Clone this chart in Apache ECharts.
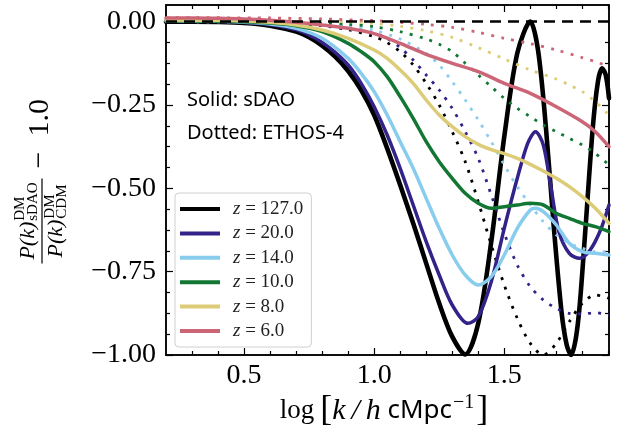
<!DOCTYPE html>
<html>
<head>
<meta charset="utf-8">
<script src="https://cdn.jsdelivr.net/npm/echarts@6/dist/echarts.min.js"></script>
<style>
html,body{margin:0;padding:0;background:#fff;}
#c{width:617px;height:439px;}
</style>
</head>
<body>
<div id="c"></div>
<script>
// ---- axis ticks ----
const xRange = [0.2, 1.9025];
const yRange = [-1.0, 0.05];
const xMajor = [0.5, 1.0, 1.5];
const xMinor = [0.3, 0.4, 0.6, 0.7, 0.8, 0.9, 1.1, 1.2, 1.3, 1.4, 1.6, 1.7, 1.8, 1.9];
const yMajor = [-1.0, -0.75, -0.5, -0.25, 0.0];
const yMinor = [-0.9375, -0.875, -0.8125, -0.6875, -0.625, -0.5625, -0.4375, -0.375, -0.3125, -0.1875, -0.125, -0.0625];

// ---- legend labels ----
const zLabels = ['z = 127.0', 'z = 20.0', 'z = 14.0', 'z = 10.0', 'z = 8.0', 'z = 6.0'];

// ---- sDAO (solid) : [log k, ratio-1] ----
const sdao127 = [[0.2,0],[0.3,0],[0.4,-0.001],[0.5,-0.004],[0.6,-0.012],[0.7,-0.03],[0.75,-0.047],[0.8,-0.072],[0.85,-0.105],[0.9,-0.148],[0.95,-0.205],[1.0,-0.28],[1.05,-0.38],[1.1,-0.49],[1.15,-0.605],[1.2,-0.725],[1.25,-0.845],[1.3,-0.945],[1.35,-0.998],[1.4,-0.905],[1.45,-0.66],[1.5,-0.345],[1.55,-0.095],[1.6,0.0],[1.63,-0.087],[1.66,-0.317],[1.69,-0.613],[1.72,-0.87],[1.74,-0.97],[1.757,-1.0],[1.775,-0.95],[1.79,-0.85],[1.81,-0.643],[1.84,-0.32],[1.86,-0.18],[1.876,-0.14],[1.89,-0.16],[1.9025,-0.23]];
const sdao20 = [[0.2,0.002],[0.4,0.001],[0.5,-0.002],[0.6,-0.009],[0.7,-0.024],[0.75,-0.04],[0.8,-0.062],[0.85,-0.092],[0.9,-0.13],[0.95,-0.185],[1.0,-0.255],[1.05,-0.34],[1.1,-0.44],[1.15,-0.55],[1.2,-0.66],[1.25,-0.76],[1.3,-0.85],[1.36,-0.905],[1.4,-0.885],[1.45,-0.78],[1.5,-0.62],[1.55,-0.47],[1.59,-0.365],[1.62,-0.33],[1.65,-0.37],[1.68,-0.5],[1.71,-0.63],[1.75,-0.695],[1.79,-0.71],[1.83,-0.685],[1.87,-0.625],[1.9025,-0.55]];
const sdao14 = [[0.2,0.002],[0.4,0.001],[0.5,-0.002],[0.6,-0.007],[0.7,-0.02],[0.8,-0.05],[0.9,-0.11],[0.95,-0.155],[1.0,-0.21],[1.05,-0.28],[1.1,-0.36],[1.15,-0.44],[1.2,-0.53],[1.25,-0.62],[1.3,-0.7],[1.35,-0.76],[1.4,-0.79],[1.45,-0.765],[1.5,-0.7],[1.55,-0.62],[1.6,-0.565],[1.62,-0.56],[1.65,-0.57],[1.7,-0.61],[1.75,-0.665],[1.8,-0.69],[1.85,-0.695],[1.9025,-0.7]];
const sdao10 = [[0.2,0.003],[0.4,0.002],[0.5,0],[0.6,-0.004],[0.7,-0.012],[0.8,-0.03],[0.9,-0.065],[0.95,-0.09],[1.0,-0.12],[1.05,-0.165],[1.1,-0.225],[1.15,-0.29],[1.2,-0.36],[1.25,-0.42],[1.3,-0.47],[1.35,-0.515],[1.4,-0.545],[1.45,-0.56],[1.5,-0.555],[1.55,-0.55],[1.6,-0.545],[1.65,-0.55],[1.7,-0.575],[1.75,-0.59],[1.8,-0.605],[1.85,-0.615],[1.9025,-0.63]];
const sdao8 = [[0.2,0.005],[0.4,0.004],[0.5,0.002],[0.6,-0.002],[0.7,-0.01],[0.8,-0.025],[0.9,-0.05],[1.0,-0.085],[1.05,-0.11],[1.1,-0.145],[1.15,-0.185],[1.2,-0.235],[1.25,-0.28],[1.3,-0.315],[1.35,-0.345],[1.4,-0.368],[1.45,-0.384],[1.5,-0.396],[1.55,-0.41],[1.6,-0.428],[1.65,-0.448],[1.7,-0.47],[1.75,-0.495],[1.8,-0.525],[1.85,-0.56],[1.9025,-0.605]];
const sdao6 = [[0.2,0.011],[0.3,0.011],[0.4,0.01],[0.5,0.008],[0.6,0.004],[0.7,-0.002],[0.8,-0.01],[0.9,-0.02],[1.0,-0.036],[1.1,-0.065],[1.2,-0.098],[1.3,-0.125],[1.4,-0.15],[1.5,-0.185],[1.6,-0.215],[1.7,-0.255],[1.8,-0.3],[1.85,-0.33],[1.9025,-0.375]];

// ---- ETHOS-4 (dotted) ----
const ethos127 = [[0.2,0],[0.5,-0.001],[0.6,-0.002],[0.7,-0.005],[0.8,-0.012],[0.9,-0.024],[1.0,-0.045],[1.05,-0.063],[1.1,-0.09],[1.15,-0.13],[1.2,-0.185],[1.25,-0.25],[1.3,-0.33],[1.35,-0.42],[1.4,-0.54],[1.45,-0.67],[1.5,-0.79],[1.55,-0.89],[1.6,-0.965],[1.65,-1.0],[1.7,-0.965],[1.75,-0.9],[1.8,-0.845],[1.85,-0.82],[1.9025,-0.83]];
const ethos20 = [[0.2,0],[0.6,-0.001],[0.7,-0.003],[0.8,-0.008],[0.9,-0.018],[1.0,-0.035],[1.05,-0.05],[1.1,-0.078],[1.15,-0.115],[1.2,-0.16],[1.25,-0.205],[1.3,-0.26],[1.35,-0.33],[1.4,-0.41],[1.45,-0.52],[1.5,-0.635],[1.55,-0.73],[1.6,-0.795],[1.65,-0.835],[1.7,-0.86],[1.75,-0.875],[1.8,-0.877],[1.85,-0.873],[1.9025,-0.88]];
const ethos14 = [[0.2,0],[0.7,-0.002],[0.8,-0.006],[0.9,-0.013],[1.0,-0.026],[1.1,-0.052],[1.2,-0.095],[1.25,-0.13],[1.3,-0.18],[1.35,-0.235],[1.4,-0.295],[1.45,-0.36],[1.5,-0.43],[1.55,-0.495],[1.6,-0.55],[1.65,-0.6],[1.7,-0.64],[1.75,-0.665],[1.8,-0.68],[1.85,-0.69],[1.9025,-0.69]];
const ethos10 = [[0.2,0.002],[0.6,0.001],[0.8,-0.003],[0.9,-0.008],[1.0,-0.015],[1.1,-0.03],[1.2,-0.052],[1.25,-0.068],[1.3,-0.09],[1.35,-0.125],[1.4,-0.16],[1.45,-0.195],[1.5,-0.23],[1.55,-0.26],[1.6,-0.285],[1.65,-0.31],[1.7,-0.33],[1.75,-0.35],[1.8,-0.37],[1.85,-0.395],[1.9025,-0.43]];
const ethos8 = [[0.2,0.005],[0.8,0.003],[0.9,0.0],[1.0,-0.005],[1.1,-0.014],[1.2,-0.027],[1.3,-0.047],[1.4,-0.078],[1.5,-0.112],[1.6,-0.145],[1.7,-0.172],[1.75,-0.19],[1.8,-0.21],[1.85,-0.24],[1.9025,-0.28]];
const ethos6 = [[0.2,0.012],[0.6,0.011],[0.8,0.008],[1.0,0.003],[1.1,-0.002],[1.2,-0.008],[1.3,-0.017],[1.4,-0.032],[1.5,-0.05],[1.6,-0.066],[1.7,-0.085],[1.8,-0.108],[1.85,-0.12],[1.9025,-0.135]];

const colors = ['#000000', '#332288', '#88CCEE', '#117733', '#DDCC77', '#CC6677'];
const solidSets = [sdao127, sdao20, sdao14, sdao10, sdao8, sdao6];
const dottedSets = [ethos127, ethos20, ethos14, ethos10, ethos8, ethos6];

const SERIF = 'Liberation Serif';
const chart = echarts.init(document.getElementById('c'), null, {renderer: 'canvas'});

function fmtY(v) {
  const s = Math.abs(v).toFixed(2);
  return v < -1e-9 ? '\u2212' + s : s;
}

function xAx(pos, ticks, len, withLabels) {
  return {
    type: 'value', position: pos, min: xRange[0], max: xRange[1],
    axisLine: {show: true, onZero: false, lineStyle: {color: '#000', width: 1.5}},
    axisTick: {show: true, inside: true, length: len, customValues: ticks, lineStyle: {color: '#000', width: 1.2}},
    axisLabel: withLabels ? {show: true, customValues: ticks, formatter: v => v.toFixed(1), color: '#000', fontFamily: SERIF, fontSize: 28, margin: 7} : {show: false},
    splitLine: {show: false}
  };
}
function yAx(pos, ticks, len, withLabels) {
  return {
    type: 'value', position: pos, min: yRange[0], max: yRange[1],
    axisLine: {show: true, onZero: false, lineStyle: {color: '#000', width: 1.5}},
    axisTick: {show: true, inside: true, length: len, customValues: ticks, lineStyle: {color: '#000', width: 1.2}},
    axisLabel: withLabels ? {show: true, customValues: ticks, formatter: fmtY, color: '#000', fontFamily: SERIF, fontSize: 28, margin: 10} : {show: false},
    splitLine: {show: false}
  };
}

const series = [];
for (let i = 0; i < 6; i++) {
  series.push({
    type: 'line', name: zLabels[i], data: solidSets[i], xAxisIndex: 0, yAxisIndex: 0,
    showSymbol: false, symbol: 'none', smooth: 0.3, silent: true,
    lineStyle: {color: colors[i], width: i === 0 ? 4.6 : 3.5, cap: 'round', join: 'round'},
    itemStyle: {color: colors[i]}
  });
  series.push({
    type: 'line', name: 'ETHOS-4 ' + zLabels[i], data: dottedSets[i], xAxisIndex: 0, yAxisIndex: 0,
    showSymbol: false, symbol: 'none', smooth: 0.3, silent: true,
    lineStyle: {color: colors[i], width: 2.8, type: [2.9, 7.3], cap: 'butt'},
    itemStyle: {color: colors[i]}
  });
}
series[series.length - 1].markLine = {
  silent: true, symbol: ['none', 'none'], label: {show: false},
  lineStyle: {color: '#000', width: 2.5, type: [11, 7]},
  data: [{yAxis: 0}]
};

// measurement helper for y-label layout
const mctx = document.createElement('canvas').getContext('2d');
function tw(t, font) { mctx.font = font; return mctx.measureText(t).width; }
const fBig = 'italic 22px "' + SERIF + '"';
const fScr = '15px "' + SERIF + '"';
const wP = tw('P(k)', fBig);
const numW = wP + 1 + Math.max(tw('DM', fScr), tw('sDAO', fScr));
const denW = wP + 1 + Math.max(tw('DM', fScr), tw('CDM', fScr));
const barL = Math.max(numW, denW) + 8;
const nx0 = -numW / 2, dx0 = -denW / 2;

const yLabel = {
  type: 'group', x: 42, y: 221, rotation: Math.PI / 2,
  children: [
    {type: 'line', shape: {x1: -barL / 2, y1: 0, x2: barL / 2, y2: 0}, style: {stroke: '#000', lineWidth: 1.2}},
    {type: 'text', style: {text: 'P(k)', x: nx0, y: -3, font: fBig, fill: '#000', verticalAlign: 'bottom', align: 'left'}},
    {type: 'text', style: {text: 'DM', x: nx0 + wP + 1, y: -14, font: fScr, fill: '#000', verticalAlign: 'bottom', align: 'left'}},
    {type: 'text', style: {text: 'sDAO', x: nx0 + wP + 1, y: -1, font: fScr, fill: '#000', verticalAlign: 'bottom', align: 'left'}},
    {type: 'text', style: {text: 'P(k)', x: dx0, y: 3, font: fBig, fill: '#000', verticalAlign: 'top', align: 'left'}},
    {type: 'text', style: {text: 'DM', x: dx0 + wP + 1, y: 1, font: fScr, fill: '#000', verticalAlign: 'top', align: 'left'}},
    {type: 'text', style: {text: 'CDM', x: dx0 + wP + 1, y: 13, font: fScr, fill: '#000', verticalAlign: 'top', align: 'left'}},
    {type: 'text', style: {text: '\u2212\u20021.0', x: barL / 2 + 10, y: -2, font: '30px "' + SERIF + '"', fill: '#000', verticalAlign: 'middle', align: 'left'}}
  ]
};

const xTitle = {
  type: 'text', x: 384, y: 411,
  style: {
    text: '{a|log}{b|[}{i|k\u2009/\u2009h}{s| cMpc}{p|\u22121}{b|]}',
    align: 'center', verticalAlign: 'middle', fill: '#000',
    rich: {
      a: {fontFamily: SERIF, fontSize: 27, padding: [0, 6, 0, 0]},
      b: {fontFamily: SERIF, fontSize: 36},
      i: {fontFamily: SERIF, fontStyle: 'italic', fontSize: 30},
      s: {fontFamily: 'Noto Sans', fontSize: 26},
      p: {fontFamily: SERIF, fontSize: 20, padding: [0, 2, 16, 1]}
    }
  }
};

const option = {
  animation: false,
  backgroundColor: '#fff',
  grid: {left: 166, right: 8, top: 5, bottom: 84, containLabel: false},
  xAxis: [xAx('bottom', xMajor, 7, true), xAx('bottom', xMinor, 4, false), xAx('top', xMajor, 7, false), xAx('top', xMinor, 4, false)],
  yAxis: [yAx('left', yMajor, 7, true), yAx('left', yMinor, 4, false), yAx('right', yMajor, 7, false), yAx('right', yMinor, 4, false)],
  legend: {
    data: zLabels, orient: 'vertical', left: 175, top: 193,
    icon: 'rect', itemWidth: 40, itemHeight: 4, itemGap: 4.4,
    padding: [6, 8, 6, 5],
    backgroundColor: 'rgba(255,255,255,0.8)', borderColor: '#d0d0d0', borderWidth: 1, borderRadius: 4,
    selectedMode: false,
    formatter: n => '{i|z}' + n.slice(1),
    textStyle: {
      fontFamily: SERIF, fontSize: 19, color: '#222', lineHeight: 20, padding: [0, 0, 0, 8],
      rich: {i: {fontFamily: SERIF, fontStyle: 'italic', fontSize: 19, color: '#222'}}
    }
  },
  graphic: [
    {type: 'text', x: 187, y: 100, style: {text: 'Solid: sDAO', font: '20px "Noto Sans"', fill: '#000', verticalAlign: 'middle'}},
    {type: 'text', x: 187, y: 133, style: {text: 'Dotted: ETHOS-4', font: '20px "Noto Sans"', fill: '#000', verticalAlign: 'middle'}},
    yLabel,
    xTitle
  ],
  series: series
};
chart.setOption(option);
</script>
</body>
</html>
